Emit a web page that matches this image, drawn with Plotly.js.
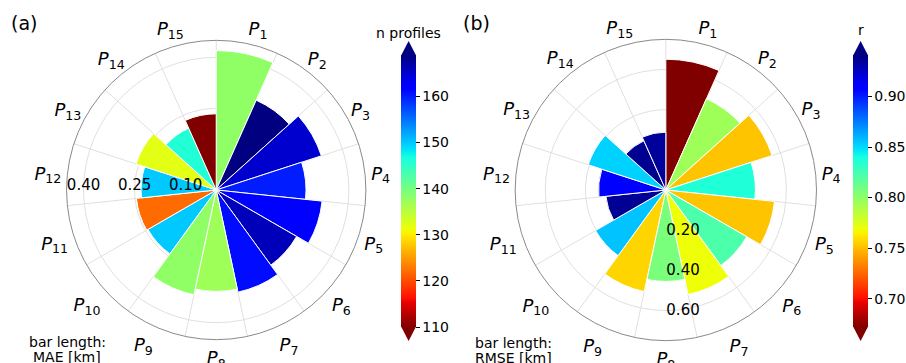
<!DOCTYPE html>
<html><head><meta charset="utf-8">
<script src="https://cdn.plot.ly/plotly-3.0.1.min.js"></script>
<style>html,body{margin:0;padding:0;background:#fff;}#chart{width:906px;height:363px;}</style>
</head><body><div id="chart"></div>
<script>
// ---- data ----
const profiles = ['P1','P2','P3','P4','P5','P6','P7','P8','P9','P10','P11','P12','P13','P14','P15'];
const maeKm    = [0.420,0.299,0.335,0.274,0.323,0.283,0.317,0.308,0.325,0.242,0.246,0.231,0.258,0.209,0.234];
const nProfiles= [138,169,165,160,162,166,161,137,138,150,122,150,132,146,110];
const rmseKm   = [0.651,0.497,0.556,0.446,0.544,0.465,0.532,0.455,0.517,0.404,0.300,0.335,0.406,0.268,0.288];
const corrR    = [0.670,0.795,0.752,0.837,0.752,0.822,0.769,0.807,0.757,0.856,0.936,0.911,0.852,0.937,0.935];
const maeTicks = [0.10,0.25,0.40];
const rmseTicks= [0.20,0.40,0.60];
const nTicks   = [110,120,130,140,150,160];
const rTicks   = [0.70,0.75,0.80,0.85,0.90];

// ---- helpers ----
const W = 906, H = 363;
const sector = 360 / profiles.length;
const thetaCenters = profiles.map((p, i) => i * sector + sector / 2);
const thetaEdges = profiles.map((p, i) => i * sector);
const profileLabels = profiles.map(p => '<i>P</i><sub>' + p.slice(1) + '</sub>');
const px = v => v / W, py = v => 1 - v / H;

// matplotlib jet, reversed (jet_r)
const jet = [
  [0.000,[0,0,0.5]],[0.110,[0,0,1]],[0.125,[0,0,1]],[0.340,[0,0.86,1]],
  [0.350,[0,0.9,0.968]],[0.375,[0.081,1,0.887]],[0.640,[0.935,1,0.032]],
  [0.650,[0.968,0.963,0]],[0.660,[1,0.926,0]],[0.890,[1,0.074,0]],
  [0.910,[0.909,0,0]],[1.000,[0.5,0,0]]
];
const jetR = jet.slice().reverse().map(([t,c]) =>
  [+(1 - t).toFixed(4), 'rgb(' + c.map(x => Math.round(x*255)).join(',') + ')']);

const font = {family: 'DejaVu Sans, sans-serif', color: '#000'};

function cbar(xLeft, ticks, fmt) {
  return {
    x: px(xLeft), xanchor: 'left', xpad: 0, ypad: 0,
    y: py(191), yanchor: 'middle',
    len: 272, lenmode: 'pixels', thickness: 15, thicknessmode: 'pixels',
    outlinewidth: 0, ticks: 'outside', ticklen: 4, tickwidth: 1, tickcolor: '#000',
    tickvals: ticks, tickformat: fmt,
    tickfont: Object.assign({size: 14}, font)
  };
}

const traces = [
  {type: 'barpolar', subplot: 'polar', r: maeKm, theta: thetaCenters, width: sector,
   marker: {color: nProfiles, colorscale: jetR, cmin: 110, cmax: 169,
            line: {color: '#fff', width: 1}, showscale: true, colorbar: cbar(402, nTicks, 'd')},
   hoverinfo: 'skip'},
  {type: 'scatterpolar', subplot: 'polar3', r: maeKm, theta: thetaCenters, mode: 'markers',
   marker: {opacity: 0, size: 1}, hoverinfo: 'skip', showlegend: false},
  {type: 'barpolar', subplot: 'polar2', r: rmseKm, theta: thetaCenters, width: sector,
   marker: {color: corrR, colorscale: jetR, cmin: 0.672, cmax: 0.941,
            line: {color: '#fff', width: 1}, showscale: true, colorbar: cbar(855, rTicks, '.2f')},
   hoverinfo: 'skip'},
  {type: 'scatterpolar', subplot: 'polar4', r: rmseKm, theta: thetaCenters, mode: 'markers',
   marker: {opacity: 0, size: 1}, hoverinfo: 'skip', showlegend: false}
];

const gridCol = '#e0e0e0';
function basePolar(dom, rRange, rTicks, rAngle, rSide, tickAngle) {
  return {
    domain: dom, bgcolor: '#fff', hole: 0,
    radialaxis: {range: rRange, tickvals: rTicks, tickformat: '.2f', angle: rAngle, side: rSide,
                 tickangle: tickAngle, showline: false, ticks: '', gridcolor: gridCol, gridwidth: 1,
                 tickfont: Object.assign({size: 15}, font), layer: 'above traces'},
    angularaxis: {direction: 'clockwise', rotation: 90, tickvals: thetaEdges, showticklabels: false,
                  ticks: '', gridcolor: gridCol, gridwidth: 1, showline: true, linecolor: '#8a8a8a', linewidth: 1}
  };
}
function labelPolar(dom) {
  return {
    domain: dom, bgcolor: 'rgba(0,0,0,0)',
    radialaxis: {visible: false, range: [0, 1]},
    angularaxis: {direction: 'clockwise', rotation: 90, tickvals: thetaCenters, ticktext: profileLabels,
                  showgrid: false, showline: false, ticks: 'outside', ticklen: 2, tickcolor: 'rgba(0,0,0,0)',
                  tickfont: Object.assign({size: 18}, font)}
  };
}
const domA = {x: [px(66.7), px(366.7)], y: [py(340), py(40)]};
const domB = {x: [px(516.3), px(818.3)], y: [py(341), py(39)]};

function tri(xl, xr, yBase, yTip, color) {
  const xm = (xl + xr) / 2;
  return {type: 'path', xref: 'paper', yref: 'paper', line: {width: 0}, fillcolor: color,
          path: `M ${px(xl)},${py(yBase)} L ${px(xr)},${py(yBase)} L ${px(xm)},${py(yTip)} Z`};
}

const layout = {
  width: W, height: H, margin: {l: 0, r: 0, t: 0, b: 0},
  paper_bgcolor: '#fff', font: font, showlegend: false,
  polar: basePolar(domA, [0.01, 0.45], maeTicks, 180, 'clockwise', 180),
  polar3: labelPolar(domA),
  polar2: basePolar(domB, [0, 0.75], rmseTicks, 270, 'counterclockwise', -90),
  polar4: labelPolar(domB),
  shapes: [
    tri(402, 417, 55.5, 41, 'rgb(0,0,128)'), tri(402, 417, 326.5, 341, 'rgb(128,0,0)'),
    tri(855, 870, 55.5, 41, 'rgb(0,0,128)'), tri(855, 870, 326.5, 341, 'rgb(128,0,0)')
  ],
  annotations: [
    {text: '(a)', x: px(9), y: py(23), xref: 'paper', yref: 'paper', xanchor: 'left', yanchor: 'middle', showarrow: false, font: Object.assign({size: 19}, font)},
    {text: '(b)', x: px(462), y: py(23), xref: 'paper', yref: 'paper', xanchor: 'left', yanchor: 'middle', showarrow: false, font: Object.assign({size: 19}, font)},
    {text: 'n profiles', x: px(409.5), y: py(33), xref: 'paper', yref: 'paper', xanchor: 'center', yanchor: 'middle', showarrow: false, font: Object.assign({size: 14}, font)},
    {text: 'r', x: px(862.5), y: py(30), xref: 'paper', yref: 'paper', xanchor: 'center', yanchor: 'middle', showarrow: false, font: Object.assign({size: 14}, font)},
    {text: 'bar length:', x: px(67.5), y: py(341.7), xref: 'paper', yref: 'paper', xanchor: 'center', yanchor: 'middle', showarrow: false, font: Object.assign({size: 14}, font)},
    {text: 'MAE [km]', x: px(67.5), y: py(357), xref: 'paper', yref: 'paper', xanchor: 'center', yanchor: 'middle', showarrow: false, font: Object.assign({size: 14}, font)},
    {text: 'bar length:', x: px(515), y: py(342.5), xref: 'paper', yref: 'paper', xanchor: 'center', yanchor: 'middle', showarrow: false, font: Object.assign({size: 14}, font)},
    {text: 'RMSE [km]', x: px(515), y: py(358), xref: 'paper', yref: 'paper', xanchor: 'center', yanchor: 'middle', showarrow: false, font: Object.assign({size: 14}, font)}
  ]
};

Plotly.newPlot('chart', traces, layout, {staticPlot: true, displayModeBar: false});
</script>
</body></html>
